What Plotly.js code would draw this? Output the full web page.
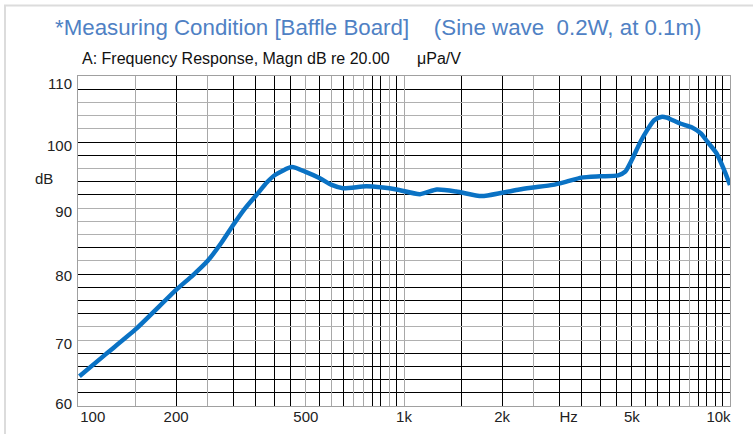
<!DOCTYPE html>
<html>
<head>
<meta charset="utf-8">
<script src="https://cdn.plot.ly/plotly-3.0.1.min.js"></script>
<style>
html,body{margin:0;padding:0;background:#fff;}
#chart{width:753px;height:434px;}
</style>
</head>
<body>
<div id="chart"></div>
<script>
// Frequency response data (Hz, dB)
const freqHz = [101, 122, 150, 200, 225, 250, 275, 300, 325, 353, 380, 402, 453, 497, 552, 600, 650, 766, 862, 950, 1120, 1260, 1446, 1730, 2000, 2260, 2490, 2860, 3150, 3500, 3990, 4540, 4770, 5000, 5310, 5570, 5850, 6150, 6390, 7030, 7650, 8140, 8540, 9090, 9550, 10000];
const magnDb = [64.5, 67.9, 71.6, 77.6, 79.8, 82.0, 84.7, 87.5, 89.9, 92.0, 93.9, 95.0, 96.2, 95.5, 94.5, 93.5, 93.0, 93.3, 93.1, 92.8, 92.1, 92.8, 92.5, 91.8, 92.3, 92.8, 93.1, 93.5, 94.0, 94.6, 94.8, 94.95, 95.5, 97.3, 100.0, 101.8, 103.3, 103.8, 103.7, 102.8, 102.2, 101.3, 100.0, 98.3, 96.0, 93.5];

// Grid lines (dark and light) as in the reference
const gridXDark = [200, 300, 350, 400, 450, 550, 650, 800, 850, 950, 1500, 2000, 3000, 3500, 4000, 4500, 5000, 5500, 6000, 6500, 7000, 8000, 8500, 9000, 9500];
const gridXLight = [150, 250, 500, 600, 700, 750, 900, 1000, 2500, 7500];
const gridYDark = [62, 64, 66, 68, 74, 76, 78, 80, 84, 92, 94, 98, 100, 108];
const gridYLight = [70, 72, 82, 86, 88, 90, 96, 102, 104, 106];

// Tick labels and where they sit
const xTickText = ['100', '200', '500', '1k', '2k', 'Hz', '5k', '10k'];
const xTickPos = [111, 200, 500, 1000, 2000, 3200, 5000, 9220];
const yTickText = ['110', '100', '90', '80', '70', '60'];
const yTickPos = [108.8, 99.4, 89.4, 79.7, 69.4, 60.3];

const XR = [2, 4];
const YR = [60, 110];
const tickFont = {family: 'Liberation Sans, Arial, sans-serif', size: 15, color: '#222'};

const traces = [
  {x: freqHz, y: magnDb, type: 'scatter', mode: 'lines', xaxis: 'x', yaxis: 'y',
   line: {color: '#0a72c4', width: 4.5, shape: 'spline', smoothing: 0.6}, hoverinfo: 'skip', showlegend: false},
  {x: [], y: [], type: 'scatter', mode: 'lines', xaxis: 'x2', yaxis: 'y2', showlegend: false},
  {x: [], y: [], type: 'scatter', mode: 'lines', xaxis: 'x3', yaxis: 'y3', showlegend: false}
];

const layout = {
  width: 753, height: 434,
  margin: {l: 78, r: 23, t: 76, b: 28},
  paper_bgcolor: '#fff', plot_bgcolor: '#fff',
  showlegend: false,
  title: {
    text: '*Measuring Condition [Baffle Board]\u00a0\u00a0\u00a0\u00a0(Sine wave\u00a0\u00a00.2W, at 0.1m)',
    font: {family: 'Liberation Sans, Arial, sans-serif', size: 22.3, color: '#4f81c4'},
    x: 55 / 753, xanchor: 'left', xref: 'container',
    y: 1 - 27 / 434, yanchor: 'middle', yref: 'container'
  },
  xaxis: {type: 'log', range: XR, tickvals: gridXDark, showticklabels: false, ticks: '',
          showgrid: true, gridcolor: '#000', gridwidth: 1, zeroline: false,
          showline: true, linecolor: '#a0a0a0', linewidth: 1, mirror: true, fixedrange: true},
  yaxis: {range: YR, tickvals: gridYDark, showticklabels: false, ticks: '',
          showgrid: true, gridcolor: '#000', gridwidth: 1, zeroline: false,
          showline: true, linecolor: '#a0a0a0', linewidth: 1, mirror: true, fixedrange: true},
  xaxis2: {type: 'log', range: XR, overlaying: 'x', anchor: 'y2', tickvals: gridXLight, showticklabels: false, ticks: '',
           showgrid: true, gridcolor: '#a8a8a8', gridwidth: 1, zeroline: false, showline: false, fixedrange: true},
  yaxis2: {range: YR, overlaying: 'y', anchor: 'x2', tickvals: gridYLight, showticklabels: false, ticks: '',
           showgrid: true, gridcolor: '#b0b0b0', gridwidth: 1, zeroline: false, showline: false, fixedrange: true},
  xaxis3: {type: 'log', range: XR, overlaying: 'x', anchor: 'y3', side: 'bottom', tickvals: xTickPos, ticktext: xTickText,
           tickmode: 'array', ticks: '', showgrid: false, zeroline: false, showline: false, tickfont: tickFont, fixedrange: true},
  yaxis3: {range: YR, overlaying: 'y', anchor: 'x3', side: 'left', tickvals: yTickPos, ticktext: yTickText,
           tickmode: 'array', ticks: '', showgrid: false, zeroline: false, showline: false, tickfont: tickFont,
           ticklabelstandoff: 5, fixedrange: true},
  annotations: [
    {text: 'dB', xref: 'paper', yref: 'paper', x: (43.5 - 78) / 652, y: (406 - 178) / 330,
     xanchor: 'center', yanchor: 'middle', showarrow: false, font: tickFont},
    {text: 'A: Frequency Response, Magn dB re 20.00', xref: 'paper', yref: 'paper',
     x: (80 - 78) / 652, y: (406 - 58) / 330, xanchor: 'left', yanchor: 'middle', showarrow: false,
     font: {family: 'Liberation Sans, Arial, sans-serif', size: 16, color: '#111'}},
    {text: 'μPa/V', xref: 'paper', yref: 'paper',
     x: (415 - 78) / 652, y: (406 - 58) / 330, xanchor: 'left', yanchor: 'middle', showarrow: false,
     font: {family: 'Liberation Sans, Arial, sans-serif', size: 16, color: '#111'}}
  ],
  shapes: [
    {type: 'rect', xref: 'paper', yref: 'paper', x0: (5 - 78) / 652, x1: 1.2, y0: -0.3, y1: (406 - 5.5) / 330,
     line: {color: '#dcdcdc', width: 2}, fillcolor: 'rgba(0,0,0,0)', layer: 'below'}
  ]
};

Plotly.newPlot('chart', traces, layout, {displayModeBar: false, staticPlot: true});
</script>
</body>
</html>
